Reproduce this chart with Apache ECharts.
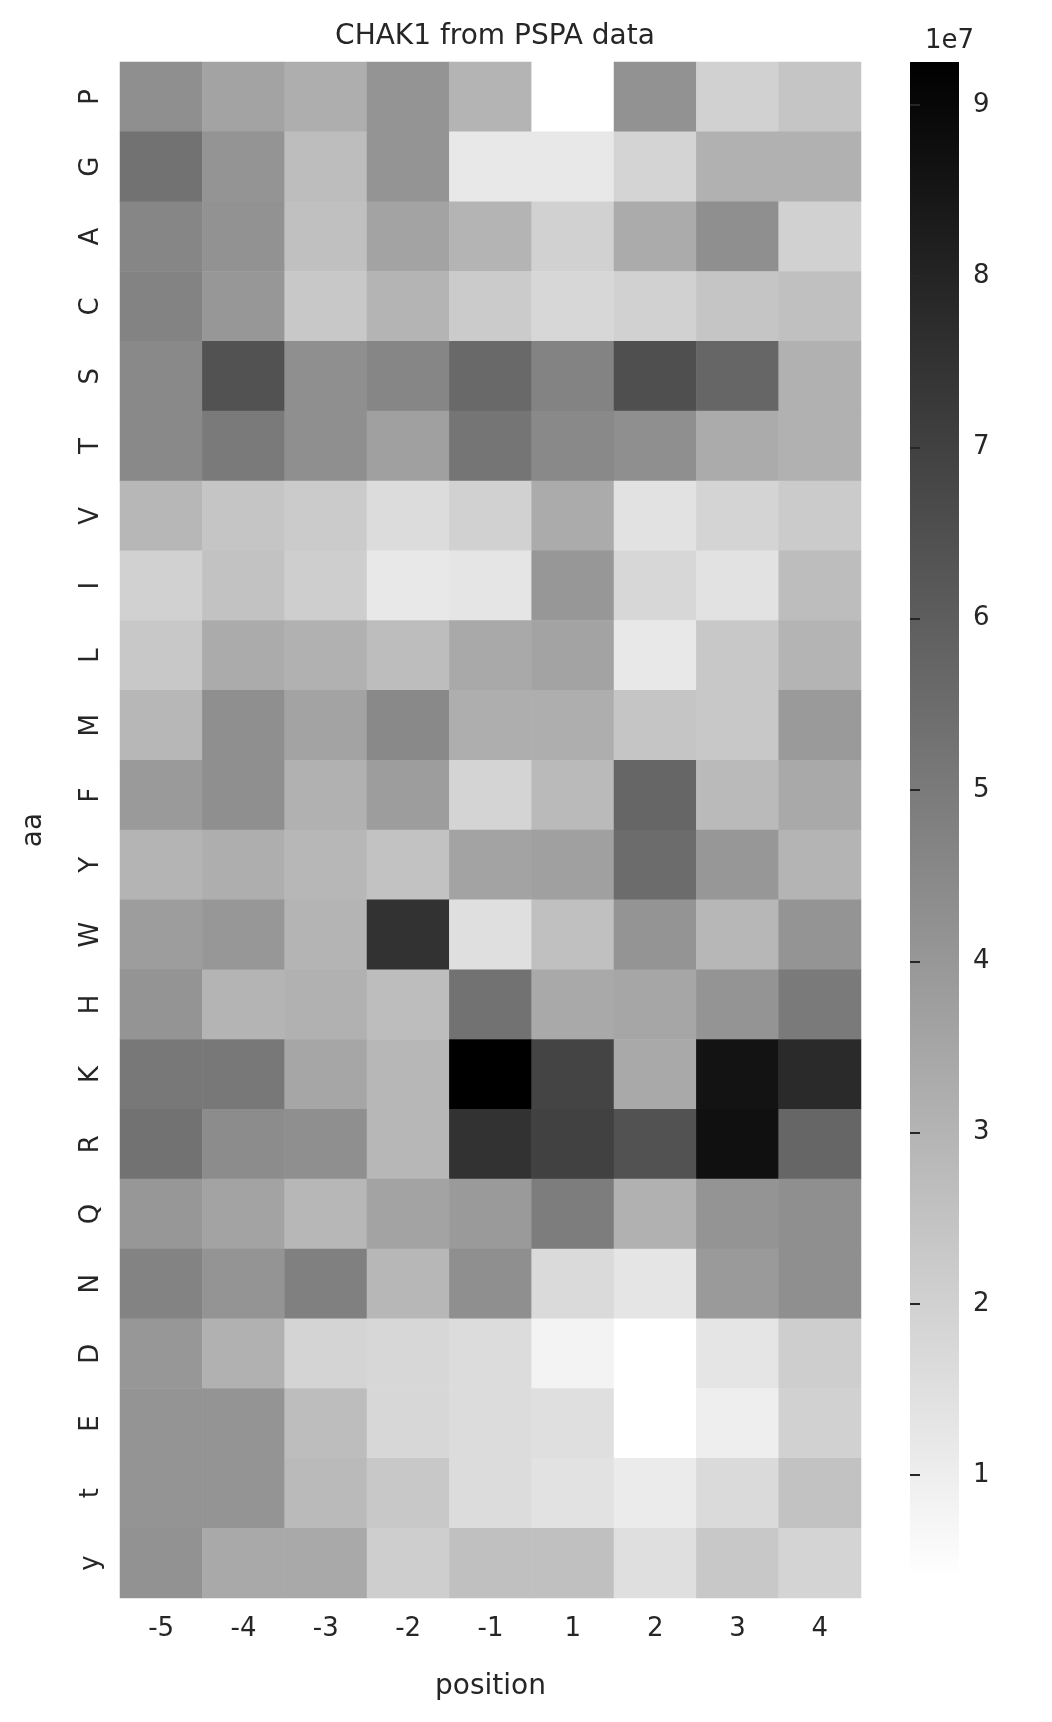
<!DOCTYPE html>
<html>
<head>
<meta charset="UTF-8">
<title>CHAK1</title>
<script src="https://cdn.jsdelivr.net/npm/echarts@6/dist/echarts.min.js"></script>
<style>html,body{margin:0;background:#fff}#c{width:1052px;height:1722px}</style>
</head>
<body>
<div id="c"></div>
<script>
// positions and amino acids
var positions = ['-5', '-4', '-3', '-2', '-1', '1', '2', '3', '4'];
var aas = ['P','G','A','C','S','T','V','I','L','M','F','Y','W','H','K','R','Q','N','D','E','t','y'];
// values in units of 1e7, one row per amino acid
var P = [4.3, 3.6, 3.2, 4.1, 3.0, 0.4, 4.2, 2.0, 2.4];
var G = [5.3, 4.1, 2.7, 4.1, 1.2, 1.2, 1.9, 3.1, 3.1];
var A = [4.6, 4.2, 2.6, 3.6, 3.0, 2.0, 3.3, 4.3, 2.0];
var C = [4.7, 4.0, 2.3, 3.0, 2.2, 1.8, 2.0, 2.4, 2.6];
var S = [4.5, 6.4, 4.3, 4.6, 5.6, 4.7, 6.5, 5.7, 3.1];
var T = [4.5, 5.0, 4.3, 3.7, 5.2, 4.5, 4.3, 3.3, 3.1];
var V = [2.9, 2.4, 2.2, 1.6, 2.0, 3.3, 1.4, 1.9, 2.2];
var I = [2.0, 2.5, 2.1, 1.2, 1.3, 4.0, 1.8, 1.4, 2.7];
var L = [2.3, 3.3, 3.1, 2.7, 3.4, 3.6, 1.2, 2.3, 3.0];
var M = [2.9, 4.3, 3.6, 4.5, 3.2, 3.2, 2.4, 2.3, 3.9];
var F = [3.9, 4.3, 3.1, 3.8, 1.9, 2.8, 5.7, 2.8, 3.4];
var Y = [3.0, 3.2, 2.9, 2.5, 3.6, 3.7, 5.5, 4.0, 3.0];
var W = [3.8, 4.0, 3.0, 7.5, 1.5, 2.6, 4.1, 2.9, 4.1];
var H = [4.1, 3.0, 3.1, 2.7, 5.3, 3.4, 3.5, 4.1, 5.0];
var K = [5.1, 5.1, 3.5, 2.9, 9.25, 6.9, 3.4, 8.6, 7.8];
var R = [5.3, 4.4, 4.3, 2.9, 7.5, 7.0, 6.4, 8.7, 5.7];
var Q = [4.0, 3.6, 2.9, 3.6, 3.9, 4.9, 3.1, 4.1, 4.3];
var N = [4.7, 4.1, 4.8, 2.9, 4.3, 1.7, 1.3, 3.9, 4.3];
var D = [4.0, 3.1, 1.9, 1.8, 1.6, 0.8, 0.4, 1.3, 2.1];
var E = [4.1, 4.1, 2.7, 1.8, 1.6, 1.5, 0.4, 1.0, 2.0];
var pt = [4.1, 4.1, 2.8, 2.3, 1.6, 1.4, 1.1, 1.7, 2.5];
var py = [4.2, 3.4, 3.4, 2.1, 2.6, 2.6, 1.5, 2.3, 1.9];
var rows = [P,G,A,C,S,T,V,I,L,M,F,Y,W,H,K,R,Q,N,D,E,pt,py];
var vmin = 0.4, vmax = 9.25;
var cbTicks = [1,2,3,4,5,6,7,8,9];

var data = [];
rows.forEach(function (r, j) {
    r.forEach(function (v, i) { data.push([i, j, v]); });
});

var font = 'DejaVu Sans';
var txt = '#262626';
var chart = echarts.init(document.getElementById('c'));
chart.setOption({
    animation: false,
    textStyle: {fontFamily: font},
    title: {text: 'CHAK1 from PSPA data', left: 490, top: 18, textAlign: 'center',
        textStyle: {fontSize: 28, fontWeight: 'normal', color: txt, fontFamily: font}},
    grid: [
        {left: 120, right: 191, top: 62, bottom: 124},
        {left: 910, width: 49, top: 62, bottom: 144}
    ],
    xAxis: [
        {type: 'category', data: positions, gridIndex: 0,
         name: 'position', nameLocation: 'middle', nameGap: 75,
         nameTextStyle: {fontSize: 28, color: txt},
         axisLine: {show: false}, splitArea: {show: false},
         axisTick: {alignWithLabel: true, length: 10, lineStyle: {color: txt, width: 2}},
         axisLabel: {fontSize: 26, color: txt, margin: 18}},
        {type: 'value', gridIndex: 1, show: false, min: 0, max: 1}
    ],
    yAxis: [
        {type: 'category', data: aas, inverse: true, gridIndex: 0,
         name: 'aa', nameLocation: 'middle', nameGap: 72, nameRotate: 90,
         nameTextStyle: {fontSize: 28, color: txt},
         axisLine: {show: false},
         axisTick: {alignWithLabel: true, length: 10, lineStyle: {color: txt, width: 2}},
         axisLabel: {fontSize: 26, color: txt, rotate: 90, margin: 16}},
        {type: 'value', gridIndex: 1, position: 'right', min: vmin, max: vmax,
         splitLine: {show: false}, axisLine: {show: false},
         axisTick: {show: true, length: 10, customValues: cbTicks, lineStyle: {color: txt, width: 2}},
         axisLabel: {fontSize: 26, color: txt, margin: 14, customValues: cbTicks}}
    ],
    visualMap: {show: false, min: vmin, max: vmax, seriesIndex: 0, dimension: 2,
        inRange: {color: ['#ffffff', '#000000']}},
    graphic: [
        {type: 'rect', shape: {x: 910, y: 62, width: 49, height: 1516},
         style: {fill: new echarts.graphic.LinearGradient(0, 0, 0, 1, [
             {offset: 0, color: '#000000'}, {offset: 1, color: '#ffffff'}])}},
        {type: 'text', left: 925, top: 28,
         style: {text: '1e7', fontSize: 26, fill: txt, fontFamily: font}}
    ],
    series: [{
        type: 'heatmap', xAxisIndex: 0, yAxisIndex: 0, data: data,
        itemStyle: {borderWidth: 0}
    }]
});
</script>
</body>
</html>
